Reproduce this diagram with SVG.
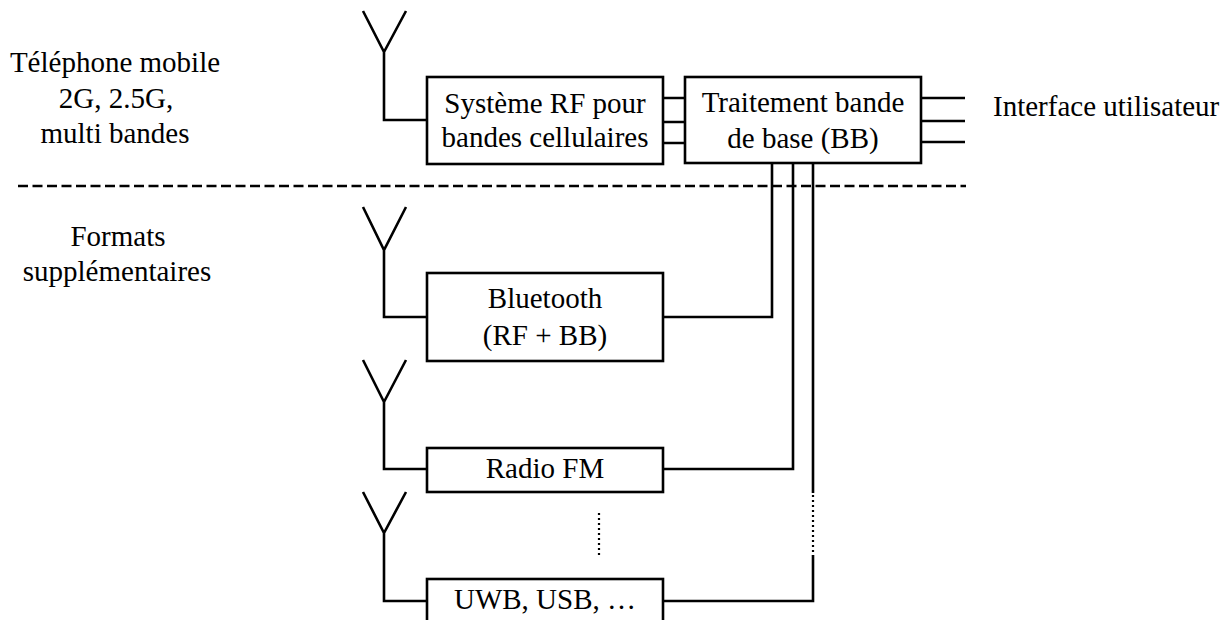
<svg xmlns="http://www.w3.org/2000/svg" width="1224" height="620" viewBox="0 0 1224 620">
<style>
.box{fill:#fff;stroke:#000;stroke-width:2.6}
.ln{fill:none;stroke:#000;stroke-width:2.6}
.dash{fill:none;stroke:#000;stroke-width:2.6;stroke-dasharray:10 4.5}
.dot{fill:none;stroke:#000;stroke-width:2.2;stroke-dasharray:2 3}
text{font-family:"Liberation Serif","Times New Roman",serif;font-size:29px;fill:#000}
.c{text-anchor:middle}
</style>
<rect width="1224" height="620" fill="#fff"/>
<g id="labels">
<text class="c" x="115" y="72">Téléphone mobile</text>
<text class="c" x="116" y="108">2G, 2.5G,</text>
<text class="c" x="115" y="143">multi bandes</text>
<text class="c" x="118" y="246">Formats</text>
<text class="c" x="117" y="281">supplémentaires</text>
<text x="993" y="116">Interface utilisateur</text>
</g>
<g id="separator">
<line class="dash" x1="18" y1="186" x2="966" y2="186"/>
</g>
<g id="connectors">
<path class="ln" d="M363,11 L384,52 L406,11 M384,52 V120 H427"/>
<path class="ln" d="M363,207 L384,250 L406,207 M384,250 V317 H427"/>
<path class="ln" d="M363,360 L384,402 L406,360 M384,402 V469 H427"/>
<path class="ln" d="M363,492 L384,533 L406,492 M384,533 V601 H427"/>
<path class="ln" d="M663,98 H685 M663,122 H685 M663,143 H685"/>
<path class="ln" d="M921,98 H965 M921,121 H965 M921,142 H965"/>
<path class="ln" d="M663,317 H772 V163"/>
<path class="ln" d="M663,469 H793 V163"/>
<path class="ln" d="M813,163 V493"/>
<path class="dot" d="M813,495 V555"/>
<path class="ln" d="M813,555 V601 H663"/>
<path class="dot" d="M599,513 V558"/>
</g>
<g id="rf-cell">
<rect class="box" x="427" y="77" width="236" height="87"/>
<text class="c" x="545" y="113">Système RF pour</text>
<text class="c" x="545" y="147">bandes cellulaires</text>
</g>
<g id="bb">
<rect class="box" x="685" y="77" width="236" height="86"/>
<text class="c" x="803" y="112">Traitement bande</text>
<text class="c" x="803" y="148">de base (BB)</text>
</g>
<g id="bluetooth">
<rect class="box" x="427" y="273" width="236" height="88"/>
<text class="c" x="545" y="308">Bluetooth</text>
<text class="c" x="545" y="345">(RF + BB)</text>
</g>
<g id="radio-fm">
<rect class="box" x="427" y="448" width="236" height="44"/>
<text class="c" x="545" y="478">Radio FM</text>
</g>
<g id="uwb">
<rect class="box" x="427" y="579" width="236" height="60"/>
<text class="c" x="545" y="609">UWB, USB, …</text>
</g>
</svg>
